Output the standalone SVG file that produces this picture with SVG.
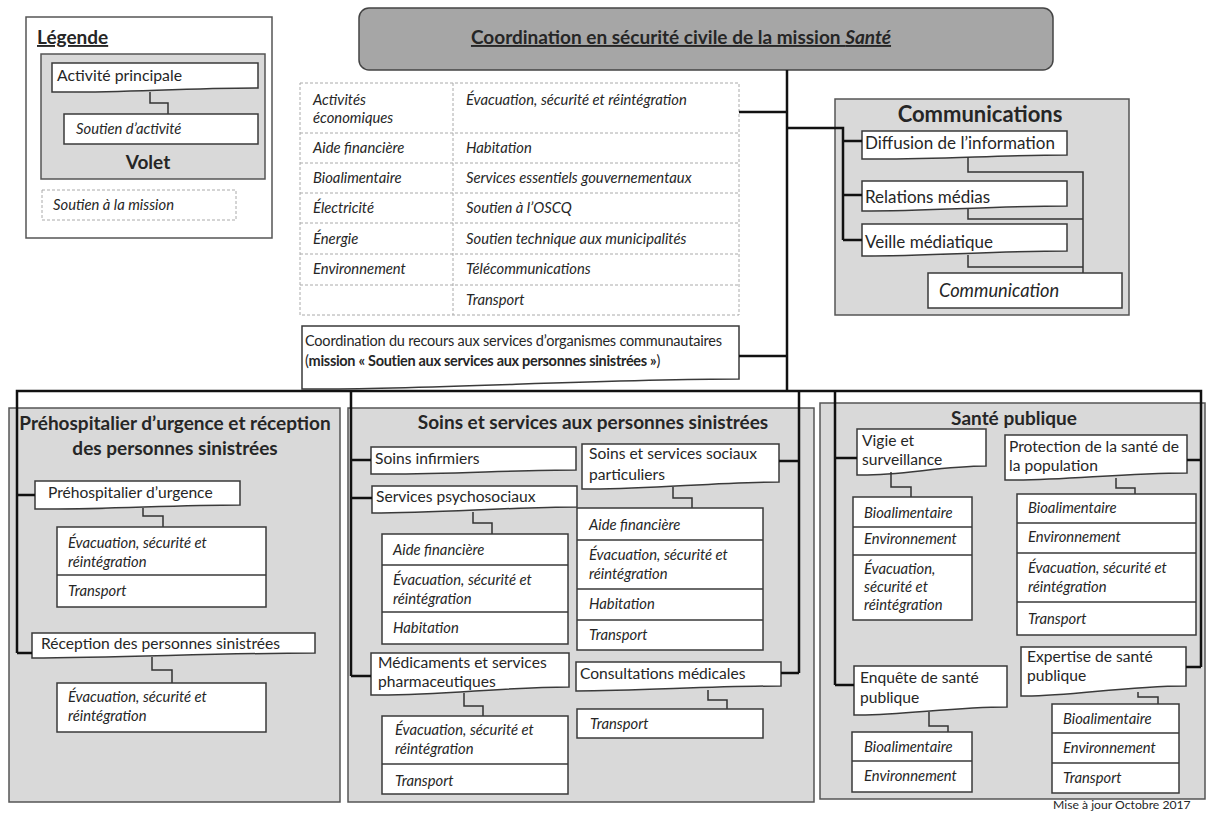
<svg xmlns="http://www.w3.org/2000/svg" width="1211" height="814" viewBox="0 0 1211 814">
  <style>
    text { font-family: Lato, "Open Sans", "Liberation Sans", sans-serif; fill: #262626; }
    .t { font-size: 15.6px; }
    .i { font-size: 14.8px; font-style: italic; }
    .ti { font-size: 14.8px; font-style: italic; fill: #333; }
    .b { font-weight: bold; }
    .h { font-size: 19px; font-weight: bold; text-anchor: middle; }
    .sec { fill: #d9d9d9; stroke: #555; stroke-width: 1.5; }
    .box { fill: #fff; stroke: #3a3a3a; stroke-width: 1.5; }
    .div { stroke: #3a3a3a; stroke-width: 1.5; }
    .dash { fill: none; stroke: #aaa; stroke-width: 1; stroke-dasharray: 3 2; }
    .wire { fill: none; stroke: #111; stroke-width: 2.5; }
    .link { fill: none; stroke: #333; stroke-width: 1.5; }
  </style>

  <!-- Legend -->
  <g id="legend">
    <rect x="26" y="17" width="246" height="221" fill="#fff" stroke="#555" stroke-width="1.5"/>
    <text x="37" y="44" class="b" font-size="19" text-decoration="underline">Légende</text>
    <rect x="41" y="54" width="224" height="125" class="sec"/>
    <path class="box" d="M52 63 H258 V88 C180 88 120 93 52 92 Z"/>
    <text x="57" y="81" font-size="15.8">Activité principale</text>
    <path class="link" d="M150 92 V103 H168 V114"/>
    <rect x="64" y="114" width="194" height="30" class="box"/>
    <text x="76" y="134" class="i">Soutien d’activité</text>
    <text x="148" y="169" class="h" font-size="18">Volet</text>
    <rect x="42" y="190" width="194" height="30" class="dash"/>
    <text x="53" y="210" class="i">Soutien à la mission</text>
  </g>

  <!-- Mission header -->
  <g id="mission">
    <rect x="359" y="8" width="694" height="62" rx="10" fill="#a6a6a6" stroke="#444" stroke-width="1.5"/>
    <text x="681" y="44" font-size="19" class="b" text-anchor="middle" text-decoration="underline">Coordination en sécurité civile de la mission <tspan font-style="italic">Santé</tspan></text>
  </g>

  <!-- Mission support table -->
  <g id="support-table">
    <rect x="300" y="83" width="439" height="232" class="dash"/>
    <path class="dash" d="M300 133 H739 M300 163 H739 M300 193 H739 M300 223 H739 M300 254 H739 M300 285 H739 M453 83 V315"/>
    <g class="ti">
      <text x="313" y="105">Activités</text>
      <text x="313" y="123">économiques</text>
      <text x="313" y="153">Aide financière</text>
      <text x="313" y="183">Bioalimentaire</text>
      <text x="313" y="213">Électricité</text>
      <text x="313" y="244">Énergie</text>
      <text x="313" y="274">Environnement</text>
      <text x="466" y="105">Évacuation, sécurité et réintégration</text>
      <text x="466" y="153">Habitation</text>
      <text x="466" y="183">Services essentiels gouvernementaux</text>
      <text x="466" y="213">Soutien à l’OSCQ</text>
      <text x="466" y="244">Soutien technique aux municipalités</text>
      <text x="466" y="274">Télécommunications</text>
      <text x="466" y="305">Transport</text>
    </g>
  </g>

  <!-- Community organisations -->
  <g id="community">
    <path class="box" d="M302 326 H739 V379 C600 379 420 390 302 389 Z"/>
    <text x="305" y="346" font-size="14.5" letter-spacing="-0.2">Coordination du recours aux services d’organismes communautaires</text>
    <text x="305" y="366" font-size="14.5" letter-spacing="-0.3">(<tspan class="b">mission « Soutien aux services aux personnes sinistrées »</tspan>)</text>
  </g>

  <!-- Communications -->
  <g id="communications">
    <rect x="835" y="99" width="294" height="216" class="sec"/>
    <text x="980" y="122" font-size="22" class="b" text-anchor="middle">Communications</text>
    <path class="box" d="M862 131 H1067 V155 C1000 155 930 160 862 159 Z"/>
    <text x="865" y="149" font-size="17">Diffusion de l’information</text>
    <path class="box" d="M862 181 H1067 V206 C1000 206 930 211 862 211 Z"/>
    <text x="865" y="203" font-size="17">Relations médias</text>
    <path class="box" d="M862 224 H1067 V251 C1000 251 930 256 862 256 Z"/>
    <text x="865" y="248" font-size="17">Veille médiatique</text>
    <path class="link" d="M968 157 V172 H1083 V273 M968 209 V219 H1083 M968 255 V267 H1083"/>
    <rect x="928" y="273" width="194" height="35" class="box"/>
    <text x="939" y="297" font-size="18.3" font-style="italic">Communication</text>
  </g>

  <!-- Pre-hospital and reception -->
  <g id="prehospitalier">
    <rect x="9" y="408" width="331" height="394" class="sec"/>
    <text x="175" y="430" class="h">Préhospitalier d’urgence et réception</text>
    <text x="175" y="455" class="h">des personnes sinistrées</text>
    <path class="box" d="M35 481 H240 V505 C170 505 100 510 35 509 Z"/>
    <text x="48" y="498" class="t">Préhospitalier d’urgence</text>
    <path class="link" d="M143 508 V516 H163 V527"/>
    <rect x="57" y="527" width="209" height="80" class="box"/>
    <line x1="57" y1="575" x2="266" y2="575" class="div"/>
    <text x="68" y="548" class="i">Évacuation, sécurité et</text>
    <text x="68" y="567" class="i">réintégration</text>
    <text x="68" y="596" class="i">Transport</text>
    <path class="box" d="M32 633 H315 V653 C220 653 120 658 32 658 Z"/>
    <text x="41" y="649" class="t">Réception des personnes sinistrées</text>
    <path class="link" d="M152 657 V670 H172 V683"/>
    <rect x="57" y="683" width="209" height="49" class="box"/>
    <text x="68" y="702" class="i">Évacuation, sécurité et</text>
    <text x="68" y="721" class="i">réintégration</text>
  </g>

  <!-- Care and services -->
  <g id="soins">
    <rect x="348" y="408" width="466" height="394" class="sec"/>
    <text x="593" y="429" class="h">Soins et services aux personnes sinistrées</text>
    <path class="box" d="M371 447 H576 V470 C510 470 440 475 371 474 Z"/>
    <text x="375" y="464" class="t">Soins infirmiers</text>
    <path class="box" d="M582 444 H779 V482 C710 482 650 490 582 489 Z"/>
    <text x="589" y="459" class="t">Soins et services sociaux</text>
    <text x="589" y="480" class="t">particuliers</text>
    <path class="box" d="M372 486 H577 V507 C510 507 440 513 372 513 Z"/>
    <text x="376" y="502" class="t">Services psychosociaux</text>
    <path class="link" d="M473 512 V523 H492 V534"/>
    <rect x="382" y="534" width="186" height="110" class="box"/>
    <path class="div" d="M382 565 H568 M382 612 H568"/>
    <text x="393" y="555" class="i">Aide financière</text>
    <text x="393" y="585" class="i">Évacuation, sécurité et</text>
    <text x="393" y="604" class="i">réintégration</text>
    <text x="393" y="633" class="i">Habitation</text>
    <path class="link" d="M673 487 V498 H692 V508"/>
    <rect x="577" y="508" width="186" height="142" class="box"/>
    <path class="div" d="M577 540 H763 M577 589 H763 M577 620 H763"/>
    <text x="589" y="530" class="i">Aide financière</text>
    <text x="589" y="560" class="i">Évacuation, sécurité et</text>
    <text x="589" y="579" class="i">réintégration</text>
    <text x="589" y="609" class="i">Habitation</text>
    <text x="589" y="640" class="i">Transport</text>
    <path class="box" d="M371 653 H569 V687 C500 687 440 696 371 695 Z"/>
    <text x="378" y="668" class="t">Médicaments et services</text>
    <text x="378" y="687" class="t">pharmaceutiques</text>
    <path class="link" d="M464 693 V706 H483 V716"/>
    <rect x="382" y="716" width="186" height="78" class="box"/>
    <line x1="382" y1="764" x2="568" y2="764" class="div"/>
    <text x="395" y="735" class="i">Évacuation, sécurité et</text>
    <text x="395" y="754" class="i">réintégration</text>
    <text x="395" y="786" class="i">Transport</text>
    <path class="box" d="M576 662 H781 V686 C710 686 640 691 576 691 Z"/>
    <text x="580" y="679" class="t">Consultations médicales</text>
    <path class="link" d="M708 690 V700 H727 V709"/>
    <rect x="577" y="709" width="186" height="29" class="box"/>
    <text x="590" y="729" class="i">Transport</text>
  </g>

  <!-- Public health -->
  <g id="sante-publique">
    <rect x="820" y="403" width="385" height="396" class="sec"/>
    <text x="1014" y="425" class="h">Santé publique</text>
    <path class="box" d="M857 429 H986 V466 C940 466 900 476 857 475 Z"/>
    <text x="862" y="446" class="t">Vigie et</text>
    <text x="862" y="465" class="t">surveillance</text>
    <path class="link" d="M891 472 V487 H911 V497"/>
    <rect x="853" y="497" width="119" height="123" class="box"/>
    <path class="div" d="M853 527 H972 M853 555 H972"/>
    <text x="864" y="518" class="i">Bioalimentaire</text>
    <text x="864" y="544" class="i">Environnement</text>
    <text x="864" y="574" class="i">Évacuation,</text>
    <text x="864" y="592" class="i">sécurité et</text>
    <text x="864" y="610" class="i">réintégration</text>
    <path class="box" d="M1005 435 H1187 V473 C1120 473 1060 481 1005 480 Z"/>
    <text x="1009" y="452" class="t">Protection de la santé de</text>
    <text x="1009" y="471" class="t">la population</text>
    <path class="link" d="M1116 478 V488 H1135 V494"/>
    <rect x="1017" y="494" width="179" height="141" class="box"/>
    <path class="div" d="M1017 523 H1196 M1017 553 H1196 M1017 602 H1196"/>
    <text x="1028" y="513" class="i">Bioalimentaire</text>
    <text x="1028" y="542" class="i">Environnement</text>
    <text x="1028" y="573" class="i">Évacuation, sécurité et</text>
    <text x="1028" y="592" class="i">réintégration</text>
    <text x="1028" y="624" class="i">Transport</text>
    <path class="box" d="M854 666 H1007 V707 C950 707 900 716 854 715 Z"/>
    <text x="860" y="683" class="t">Enquête de santé</text>
    <text x="860" y="703" class="t">publique</text>
    <path class="link" d="M929 712 V726 H948 V732"/>
    <rect x="852" y="732" width="120" height="60" class="box"/>
    <line x1="852" y1="761" x2="972" y2="761" class="div"/>
    <text x="864" y="752" class="i">Bioalimentaire</text>
    <text x="864" y="781" class="i">Environnement</text>
    <path class="box" d="M1021 647 H1186 V686 C1120 686 1070 697 1021 696 Z"/>
    <text x="1027" y="662" class="t">Expertise de santé</text>
    <text x="1027" y="681" class="t">publique</text>
    <path class="link" d="M1138 692 V697 H1158 V704"/>
    <rect x="1052" y="704" width="127" height="89" class="box"/>
    <path class="div" d="M1052 733 H1179 M1052 763 H1179"/>
    <text x="1063" y="724" class="i">Bioalimentaire</text>
    <text x="1063" y="753" class="i">Environnement</text>
    <text x="1063" y="783" class="i">Transport</text>
  </g>

  <!-- Connectors -->
  <g id="connectors" class="wire">
    <path d="M787 70 V391"/>
    <path d="M739 112 H787"/>
    <path d="M739 356 H787"/>
    <path d="M787 128 H843 V240 M843 141 H862 M843 195 H862 M843 240 H862"/>
    <path d="M17 653 V391 H1201 V667"/>
    <path d="M17 495 H35 M17 653 H32"/>
    <path d="M351 391 V676 M351 460 H371 M351 498 H372 M351 676 H371"/>
    <path d="M799 391 V673 M799 461 H779 M799 673 H781"/>
    <path d="M835 391 V685 M835 458 H857 M835 685 H854"/>
    <path d="M1201 460 H1187 M1201 667 H1186"/>
  </g>

  <text x="1053" y="809" font-size="12.2" fill="#333">Mise à jour Octobre 2017</text>
</svg>
